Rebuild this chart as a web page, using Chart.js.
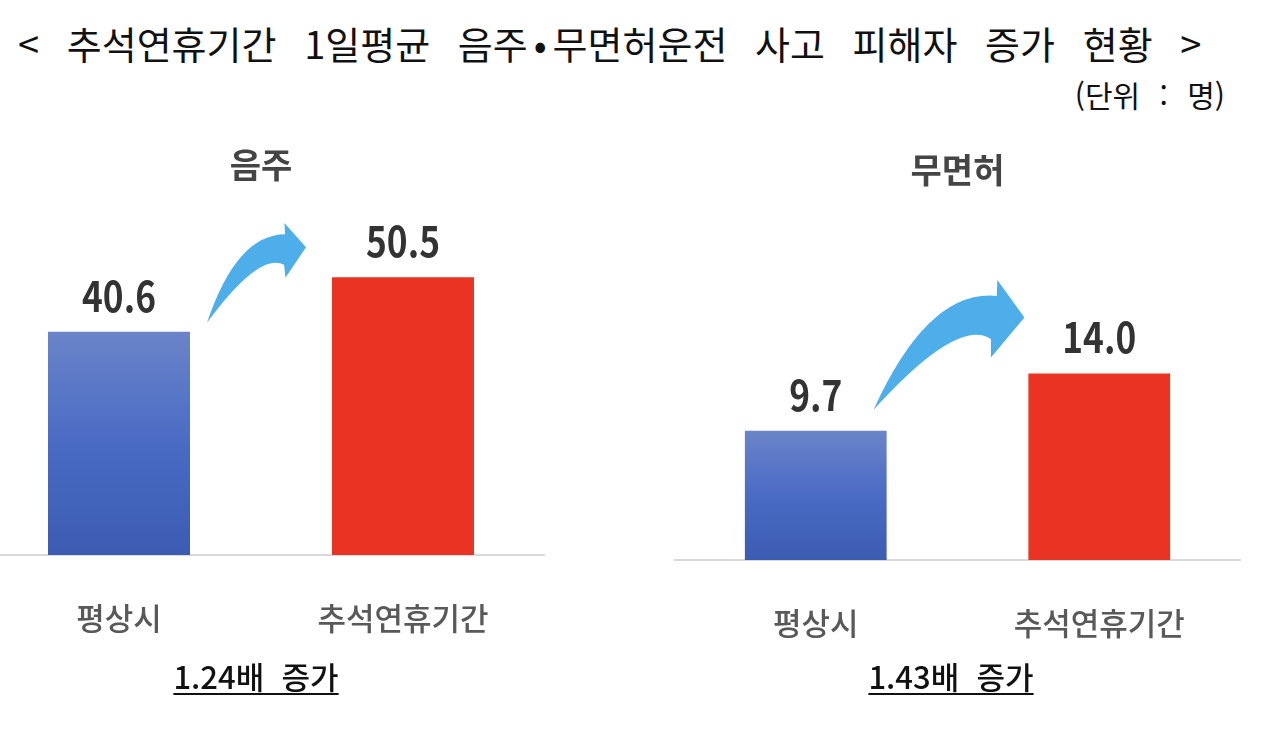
<!DOCTYPE html>
<html lang="ko">
<head>
<meta charset="utf-8">
<title>추석연휴기간 음주·무면허운전 사고 피해자</title>
<script src="https://cdn.jsdelivr.net/npm/chart.js@4.4.1/dist/chart.umd.min.js"></script>
<style>
    body { margin: 0; width: 1280px; height: 735px; overflow: hidden; position: relative; background: #fff;
           font-family: "Noto Sans CJK KR", "Noto Sans", sans-serif; }
    #titulo { position: absolute; left: 18px; top: 19px; font-size: 38px; line-height: 48px; color: #111;
              white-space: pre; word-spacing: 17px; }
    #titulo .ponto { margin: 0 6px; }
    #unidade { position: absolute; right: 55px; top: 75px; font-size: 30px; line-height: 38px; color: #111;
               word-spacing: 11px; }
    canvas { position: absolute; }
    #graficoAlcool { left: -23px; top: 120px; }
    #graficoHabilitacao { left: 674px; top: 125px; }
    .aumento { position: absolute; top: 657px; font-size: 31px; line-height: 38px; font-weight: 500; color: #111;
               transform: translateX(-50%); white-space: pre; text-decoration: underline;
               text-decoration-thickness: 2px; text-underline-offset: 4px; }
</style>
</head>
<body>
<div id="titulo">&lt; 추석연휴기간 1일평균 음주<span class="ponto">•</span>무면허운전 사고 피해자 증가 현황 &gt;</div>
<div id="unidade">(단위 : 명)</div>
<canvas id="graficoAlcool" width="568" height="540"></canvas>
<canvas id="graficoHabilitacao" width="567" height="540"></canvas>
<div class="aumento" id="aumentoAlcool" style="left:256px"></div>
<div class="aumento" id="aumentoHabilitacao" style="left:951px"></div>

<script>
// Dados dos graficos
const categorias = ['평상시', '추석연휴기간'];
const valoresAlcool = [40.6, 50.5];          // 음주
const valoresHabilitacao = [9.7, 14.0];      // 무면허
const titulosGraficos = ['음주', '무면허'];
const textosAumento = ['1.24배  증가', '1.43배  증가'];

document.getElementById('aumentoAlcool').innerText = textosAumento[0];
document.getElementById('aumentoHabilitacao').innerText = textosAumento[1];

Chart.defaults.font.family = '"Noto Sans CJK KR", "Noto Sans", sans-serif';

// cor das barras: azul em degrade para 평상시, vermelho para 추석연휴기간
function corBarra(c) {
    if (c.dataIndex === 1) return '#e93323';
    const area = c.chart.chartArea;
    if (!area) return '#4a6bc3';
    const topo = c.chart.scales.y.getPixelForValue(c.raw);
    const grad = c.chart.ctx.createLinearGradient(0, topo, 0, area.bottom);
    grad.addColorStop(0, '#6b84c9');
    grad.addColorStop(0.5, '#4a6bc4');
    grad.addColorStop(1, '#3b5cb1');
    return grad;
}

// escreve o valor acima de cada barra (fonte um pouco estreitada)
const rotulosValores = {
    id: 'rotulosValores',
    afterDatasetsDraw(chart) {
        const ctx = chart.ctx;
        const meta = chart.getDatasetMeta(0);
        meta.data.forEach((barra, i) => {
            ctx.save();
            ctx.font = 'bold 42px "Noto Sans CJK KR", sans-serif';
            ctx.fillStyle = '#333333';
            ctx.textAlign = 'center';
            ctx.textBaseline = 'middle';
            ctx.translate(barra.x, barra.y - 36);
            ctx.scale(0.84, 1);
            ctx.fillText(chart.data.datasets[0].data[i].toFixed(1), 0, 0);
            ctx.restore();
        });
    }
};

// seta azul curva entre as duas barras (forma em coordenadas locais inicio->ponta)
const formaSeta = {
    pontaCima: [0.98, 0.26], pontaBaixo: [0.72, -0.095],
    juntaCima: [0.93, 0.185], juntaBaixo: [0.775, -0.005],
    ctrlCima: [0.62, 0.42], ctrlBaixo: [0.68, 0.2]
};

const seta = {
    id: 'seta',
    afterDatasetsDraw(chart, args, opts) {
        const meta = chart.getDatasetMeta(0);
        const b0 = meta.data[0], b1 = meta.data[1];
        const sx = b0.x + b0.width / 2 + opts.inicio[0], sy = b0.y + opts.inicio[1];
        const tx = b1.x - b1.width / 2 + opts.fim[0], ty = b1.y + opts.fim[1];
        const ux = tx - sx, uy = ty - sy;
        const vx = uy, vy = -ux;
        const p = (f) => [sx + f[0] * ux + f[1] * vx, sy + f[0] * uy + f[1] * vy];
        const ctx = chart.ctx;
        ctx.save();
        ctx.fillStyle = '#4daee9';
        ctx.beginPath();
        ctx.moveTo(sx, sy);
        let c = p(formaSeta.ctrlCima), j = p(formaSeta.juntaCima);
        ctx.quadraticCurveTo(c[0], c[1], j[0], j[1]);
        let q = p(formaSeta.pontaCima);
        ctx.lineTo(q[0], q[1]);
        ctx.lineTo(tx, ty);
        q = p(formaSeta.pontaBaixo);
        ctx.lineTo(q[0], q[1]);
        j = p(formaSeta.juntaBaixo);
        ctx.lineTo(j[0], j[1]);
        c = p(formaSeta.ctrlBaixo);
        ctx.quadraticCurveTo(c[0], c[1], sx, sy);
        ctx.closePath();
        ctx.fill();
        ctx.restore();
    }
};

function criarGrafico(id, titulo, valores, maximo, inicioSeta, fimSeta) {
    const ctx = document.getElementById(id).getContext('2d');
    return new Chart(ctx, {
        type: 'bar',
        data: {
            labels: categorias,
            datasets: [{
                data: valores,
                backgroundColor: corBarra,
                borderWidth: 0,
                barPercentage: 0.5,
                categoryPercentage: 1
            }]
        },
        options: {
            responsive: false,
            animation: false,
            layout: { padding: 0 },
            plugins: {
                legend: { display: false },
                tooltip: { enabled: false },
                title: {
                    display: true,
                    text: titulo,
                    color: '#454545',
                    font: { size: 34, weight: 'bold' },
                    padding: { top: 25, bottom: 20 }
                },
                seta: { inicio: inicioSeta, fim: fimSeta }
            },
            scales: {
                x: {
                    grid: { display: false, drawTicks: false },
                    border: { display: true, color: '#d9d9d9', width: 2 },
                    ticks: { color: '#595959', font: { size: 31, weight: '500' }, padding: 45 },
                    afterFit: (s) => { s.height = 105; }
                },
                y: { display: false, min: 0, max: maximo }
            }
        },
        plugins: [rotulosValores, seta]
    });
}

criarGrafico('graficoAlcool', titulosGraficos[0], valoresAlcool, 63.5, [17, -9], [-26, -30]);
criarGrafico('graficoHabilitacao', titulosGraficos[1], valoresHabilitacao, 26.2, [-13, -21], [-4, -56]);
</script>
</body>
</html>
